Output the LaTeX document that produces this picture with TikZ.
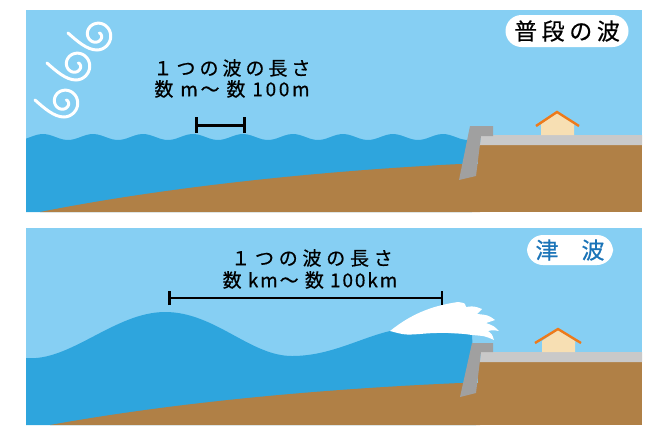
\documentclass[tikz,border=0pt]{standalone}
\usepackage{fontspec}
\newfontfamily\jpfont[FakeBold=0.5]{Noto Sans CJK JP}
\usetikzlibrary{arrows.meta}
\definecolor{skyblue}{RGB}{134,207,243}
\definecolor{seablue}{RGB}{46,165,221}
\definecolor{earth}{RGB}{176,128,70}
\definecolor{wallgray}{RGB}{160,160,160}
\definecolor{roadgray}{RGB}{201,201,201}
\definecolor{housewall}{RGB}{247,223,179}
\definecolor{roofred}{RGB}{238,122,26}
\definecolor{labelblue}{RGB}{27,116,184}

\begin{document}
\begin{tikzpicture}[x=0.5pt,y=-0.5pt,
    swirl/.style={white,line width=1.5pt,line cap=round},
    bracket/.style={{Bar[width=8pt]}-{Bar[width=8pt]},line width=1.5pt},
    caption/.style={font=\jpfont\fontsize{9.5}{11}\selectfont,inner sep=0pt},
    badge/.style={fill=white,rounded corners=8pt,inner sep=0pt,font=\jpfont\fontsize{11.5}{13}\selectfont}]
  \useasboundingbox (0,0) rectangle (658,425);

  \fill[skyblue] (26,10) rectangle (642,212);
  \fill[seablue] plot[domain=26:472,samples=120] (\x,{137-3*cos(7.2*(\x-43))})
    -- (472,212) -- (26,212) -- cycle;
  \fill[earth] (40,212) .. controls (150,190) and (300,172) .. (460,164) -- (480,164) -- (480,212) -- cycle;
  \fill[earth] (478,145) rectangle (642,212);
  \fill[roadgray] (481,135) -- (642,135) -- (642,145) -- (480,145) -- cycle;
  \fill[wallgray] (470,126) -- (493,126) -- (493,136) -- (481,136) -- (476,176) -- (459,180) -- cycle;
  \fill[housewall] (541,135) -- (541,124) -- (557,113) -- (574,124) -- (574,135) -- cycle;
  \draw[roofred,line width=1.2pt] (536,126) -- (557,112) -- (579,126);

  \foreach \cx/\cy in {97/35, 76/65, 64/102}
    \draw[swirl,shift={(\cx,\cy)}] (-29,-2) .. controls (-20,6) and (-10,15) .. (0,15)
      -- plot[domain=90:-400,samples=90,variable=\t]
      ({(15-8*((90-\t)/360)^1.3)*cos(\t)},{(15-8*((90-\t)/360)^1.3)*sin(\t)});

  \node[caption] (len1) at (232,68) {\addfontfeature{LetterSpace=21}１つの波の長さ};
  \node[caption] (range1) at (232,89) {\addfontfeature{LetterSpace=14}数 m～ 数 100m};
  \coordinate (wl1) at (195,125);
  \coordinate (wr1) at (246,125);
  \draw[bracket] (wl1) -- (wr1);

  \node[badge,minimum width=61.5pt,minimum height=16pt] (calm) at (567,31)
    {\addfontfeature{LetterSpace=20}普段の波};

  \fill[skyblue] (26,228) rectangle (642,425);
  \fill[seablue] (26,358) .. controls (70,362) and (115,312) .. (165,312)
    .. controls (215,312) and (250,356) .. (292,356)
    .. controls (330,356) and (360,338) .. (390,331) -- (472,334) -- (476,425) -- (26,425) -- cycle;
  \fill[earth] (50,425) .. controls (160,405) and (300,390) .. (460,383) -- (480,383) -- (480,425) -- cycle;
  \fill[earth] (478,362) rectangle (642,425);
  \fill[roadgray] (481,352) -- (642,352) -- (642,362) -- (480,362) -- cycle;
  \fill[wallgray] (472,343) -- (493,343) -- (493,352) -- (481,352) -- (476,393) -- (460,397) -- cycle;
  \fill[white] (390,331) .. controls (410,315) and (430,306) .. (458,302)
    .. controls (465,303) .. (466,307)
    .. controls (474,306) .. (482,309)
    .. controls (480,312) .. (477,314)
    .. controls (488,315) .. (495,320)
    .. controls (490,322) .. (486,323)
    .. controls (494,326) .. (499,331)
    .. controls (493,330) .. (488,331)
    .. controls (492,334) .. (494,340)
    .. controls (485,336) .. (472,335)
    .. controls (460,333) and (440,332) .. (420,334)
    .. controls (405,335) .. (390,331) -- cycle;
  \fill[housewall] (542,352) -- (542,341) -- (558,330) -- (575,341) -- (575,352) -- cycle;
  \draw[roofred,line width=1.2pt] (535,343) -- (558,329) -- (581,343);

  \node[caption] (len2) at (312,258) {\addfontfeature{LetterSpace=25}１つの波の長さ};
  \node[caption] (range2) at (310,280) {\addfontfeature{LetterSpace=10}数 km～ 数 100km};
  \coordinate (wl2) at (168,298);
  \coordinate (wr2) at (443,298);
  \draw[bracket,{Bar[width=7pt]}-{Bar[width=7pt]},line width=1.25pt] (wl2) -- (wr2);

  \node[badge,minimum width=43pt,minimum height=15pt,text=labelblue] (tsunami) at (570,250) {津　波};
\end{tikzpicture}
\end{document}
